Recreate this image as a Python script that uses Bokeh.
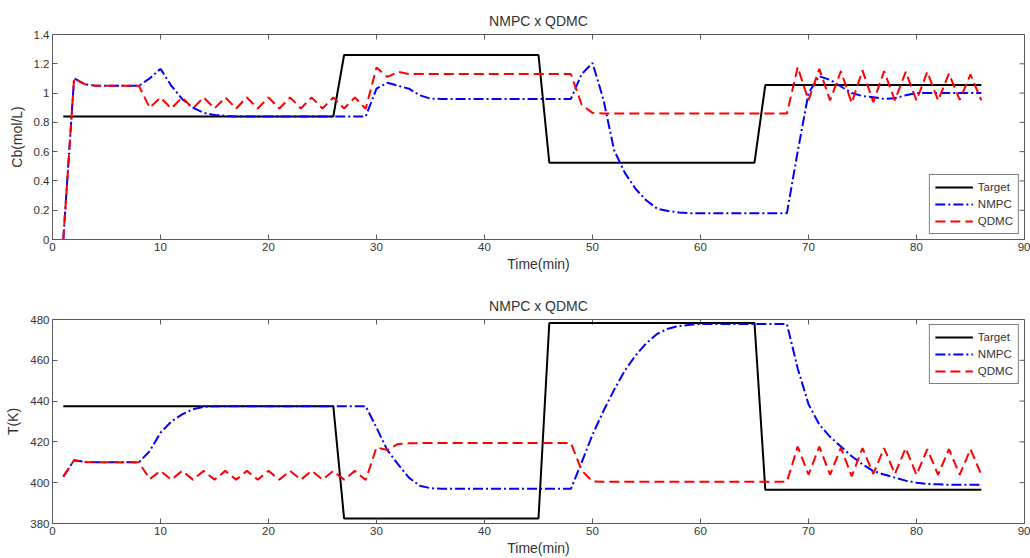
import math

from bokeh.plotting import figure
from bokeh.layouts import column
from bokeh.models import FixedTicker, Range1d, Legend, LegendItem
from bokeh.embed import file_html
from bokeh.resources import INLINE

# ---- time base (min) ----
time_min = list(range(1, 87))

# ---- concentration of B, Cb (mol/L) ----
cb_target_t = [1, 26, 27, 45, 46, 65, 66, 86]
cb_target = [0.84, 0.84, 1.26, 1.26, 0.525, 0.525, 1.055, 1.055]

cb_nmpc = [
    0.0, 1.10, 1.06, 1.05, 1.05, 1.05, 1.05, 1.05, 1.10, 1.165,
    1.05, 0.96, 0.90, 0.865, 0.85, 0.845, 0.84, 0.84, 0.84, 0.84,
    0.84, 0.84, 0.84, 0.84, 0.84, 0.84, 0.84, 0.84, 0.84, 1.03,
    1.07, 1.05, 1.03, 0.985, 0.962, 0.96, 0.96, 0.96, 0.96, 0.96,
    0.96, 0.96, 0.96, 0.96, 0.96, 0.96, 0.96, 0.96, 1.13, 1.205,
    0.96, 0.61, 0.455, 0.345, 0.266, 0.21, 0.195, 0.185, 0.18, 0.18,
    0.18, 0.18, 0.18, 0.18, 0.18, 0.18, 0.18, 0.18, 0.60, 1.00,
    1.115, 1.09, 1.045, 1.00, 0.98, 0.972, 0.96, 0.965, 0.985, 1.00,
    1.00, 1.00, 1.00, 1.00, 1.00, 1.00,
]

cb_qdmc = [
    0.0, 1.10, 1.06, 1.05, 1.05, 1.05, 1.05, 1.05, 0.90, 0.97,
    0.895, 0.97, 0.895, 0.97, 0.895, 0.97, 0.895, 0.97, 0.895, 0.97,
    0.895, 0.97, 0.895, 0.97, 0.895, 0.97, 0.895, 0.97, 0.893, 1.175,
    1.11, 1.145, 1.13, 1.13, 1.13, 1.13, 1.13, 1.13, 1.13, 1.13,
    1.13, 1.13, 1.13, 1.13, 1.13, 1.13, 1.13, 1.13, 0.92, 0.865,
    0.86, 0.86, 0.86, 0.86, 0.86, 0.86, 0.86, 0.86, 0.86, 0.86,
    0.86, 0.86, 0.86, 0.86, 0.86, 0.86, 0.86, 0.86, 1.177, 0.95,
    1.165, 0.95, 1.15, 0.932, 1.155, 0.937, 1.15, 0.95, 1.145, 0.95,
    1.145, 0.95, 1.132, 0.954, 1.127, 0.95,
]

# ---- reactor temperature, T (K) ----
t_target_t = [1, 26, 27, 45, 46, 65, 66, 86]
t_target = [437.5, 437.5, 382.5, 382.5, 478.3, 478.3, 396.5, 396.5]

t_nmpc = [
    403.0, 411.0, 410.2, 410.0, 410.0, 410.0, 410.0, 410.0, 415.5, 424.5,
    430.0, 433.5, 436.0, 437.2, 437.5, 437.5, 437.5, 437.5, 437.5, 437.5,
    437.5, 437.5, 437.5, 437.5, 437.5, 437.5, 437.5, 437.5, 437.5, 427.0,
    416.0, 409.0, 402.5, 398.5, 397.3, 397.0, 397.0, 397.0, 397.0, 397.0,
    397.0, 397.0, 397.0, 397.0, 397.0, 397.0, 397.0, 397.0, 410.0, 423.5,
    435.0, 445.5, 455.0, 462.5, 468.5, 473.0, 475.5, 476.8, 477.4, 477.8,
    477.8, 477.8, 477.8, 477.8, 477.8, 477.8, 477.8, 477.8, 456.0, 438.5,
    428.5, 422.5, 417.7, 413.0, 409.0, 405.7, 404.0, 402.5, 401.0, 400.0,
    399.4, 399.2, 399.0, 399.0, 399.0, 399.0,
]

t_qdmc = [
    403.0, 411.0, 410.2, 410.0, 410.0, 410.0, 410.0, 410.0, 401.8, 405.8,
    401.5, 405.8, 401.5, 405.8, 401.5, 405.8, 401.5, 405.8, 401.5, 405.8,
    401.5, 405.8, 401.5, 405.8, 401.5, 405.8, 401.5, 405.8, 401.3, 417.3,
    416.0, 419.0, 419.3, 419.4, 419.4, 419.4, 419.4, 419.4, 419.4, 419.4,
    419.4, 419.4, 419.4, 419.4, 419.4, 419.4, 419.4, 419.4, 406.0, 400.6,
    400.5, 400.5, 400.5, 400.5, 400.5, 400.5, 400.5, 400.5, 400.5, 400.5,
    400.5, 400.5, 400.5, 400.5, 400.5, 400.5, 400.5, 400.5, 417.7, 403.9,
    417.7, 403.9, 417.2, 403.1, 417.0, 404.3, 417.0, 404.3, 417.0, 403.9,
    416.4, 403.9, 416.4, 403.9, 416.4, 403.9,
]

# ---- axes ----
x_start, x_end = 0, 90
x_ticks = [0, 10, 20, 30, 40, 50, 60, 70, 80, 90]
x_tick_labels = ["0", "10", "20", "30", "40", "50", "60", "70", "80", "90"]
cb_start, cb_end = 0, 1.4
cb_ticks = [0, 0.2, 0.4, 0.6, 0.8, 1.0, 1.2, 1.4]
cb_tick_labels = ["0", "0.2", "0.4", "0.6", "0.8", "1", "1.2", "1.4"]
t_start, t_end = 380, 480
t_ticks = [380, 400, 420, 440, 460, 480]
t_tick_labels = ["380", "400", "420", "440", "460", "480"]

FONT = "Liberation Sans"
TEXT = "#333333"
BOX = "#5a5a5a"
TICK_LEN = 5


def style_axis(axis, ticks, labels):
    axis.ticker = FixedTicker(ticks=ticks)
    axis.major_label_overrides = dict(zip(ticks, labels))
    axis.major_tick_in = TICK_LEN
    axis.major_tick_out = 0
    axis.minor_tick_in = 0
    axis.minor_tick_out = 0
    axis.major_tick_line_color = BOX
    axis.axis_line_color = BOX
    axis.major_label_text_font = FONT
    axis.major_label_text_color = TEXT
    axis.major_label_text_font_size = "11.5px"
    axis.major_label_standoff = 3
    axis.axis_label_text_font = FONT
    axis.axis_label_text_font_size = "14px"
    axis.axis_label_text_font_style = "normal"
    axis.axis_label_text_color = TEXT


def panel(ylabel, y_lo, y_hi, y_ticks, y_labels, tgt_t, tgt, nmpc, qdmc,
          legend_loc, height, top, bottom):
    p = figure(width=1030, height=height,
               x_range=Range1d(x_start, x_end), y_range=Range1d(y_lo, y_hi),
               output_backend="svg", toolbar_location=None,
               min_border_left=52, min_border_right=6,
               min_border_top=top, min_border_bottom=bottom)
    p.title.text = "NMPC x QDMC"
    p.title.align = "center"
    p.title.text_font = FONT
    p.title.text_font_size = "14px"
    p.title.text_font_style = "normal"
    p.title.text_color = TEXT
    p.title.standoff = 11
    p.xgrid.visible = False
    p.ygrid.visible = False
    p.outline_line_color = BOX
    p.outline_line_width = 1

    style_axis(p.xaxis[0], x_ticks, x_tick_labels)
    style_axis(p.yaxis[0], y_ticks, y_labels)
    p.xaxis.axis_label = "Time(min)"
    p.yaxis.axis_label = ylabel
    p.xaxis.axis_label_standoff = 2
    p.yaxis.axis_label_standoff = 6

    # inward tick marks mirrored on the top and right edges of the box
    p.ray(x=x_ticks, y=[y_hi] * len(x_ticks), length=TICK_LEN,
          length_units="screen", angle=-math.pi / 2,
          line_color=BOX, line_width=1)
    p.ray(x=[x_end] * len(y_ticks), y=y_ticks, length=TICK_LEN,
          length_units="screen", angle=math.pi,
          line_color=BOX, line_width=1)

    r_tgt = p.line(tgt_t, tgt, line_color="black", line_width=2)
    r_nmpc = p.line(time_min, nmpc, line_color="#0000ff", line_width=2,
                    line_dash="10 3 2 3")
    r_qdmc = p.line(time_min, qdmc, line_color="#ff0000", line_width=2,
                    line_dash="10 5")

    legend = Legend(items=[LegendItem(label="Target", renderers=[r_tgt]),
                           LegendItem(label="NMPC", renderers=[r_nmpc]),
                           LegendItem(label="QDMC", renderers=[r_qdmc])],
                    location=legend_loc)
    legend.label_text_font = FONT
    legend.label_text_font_size = "11.5px"
    legend.label_text_color = TEXT
    legend.border_line_color = "black"
    legend.border_line_width = 1
    legend.background_fill_alpha = 1
    legend.glyph_width = 38
    legend.glyph_height = 14
    legend.label_height = 14
    legend.label_standoff = 5
    legend.spacing = 3
    legend.padding = 5
    legend.margin = 5
    p.add_layout(legend)
    return p


p_cb = panel("Cb(mol/L)", cb_start, cb_end, cb_ticks, cb_tick_labels,
             cb_target_t, cb_target, cb_nmpc, cb_qdmc,
             "bottom_right", 279, 34, 40)
p_t = panel("T(K)", t_start, t_end, t_ticks, t_tick_labels,
            t_target_t, t_target, t_nmpc, t_qdmc,
            "top_right", 279, 40, 34)

layout = column(p_cb, p_t)
open("out.html", "w").write(file_html(layout, INLINE))
